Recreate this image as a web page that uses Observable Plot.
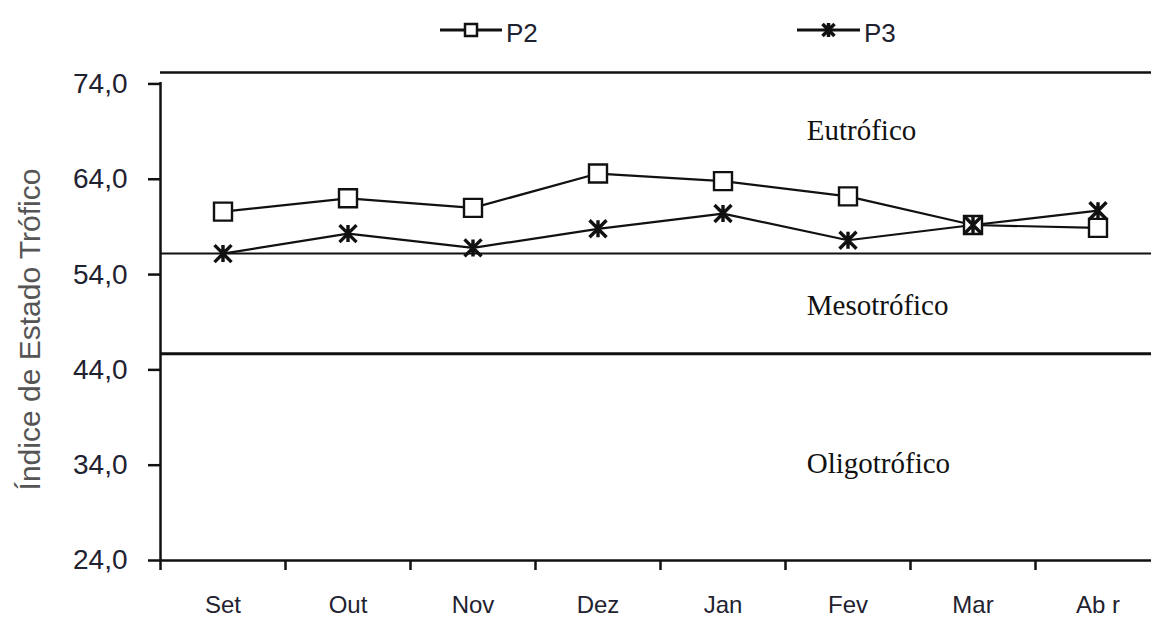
<!DOCTYPE html>
<html>
<head>
<meta charset="utf-8">
<script src="https://cdn.jsdelivr.net/npm/d3@7"></script>
<script src="https://cdn.jsdelivr.net/npm/@observablehq/plot@0.6"></script>
<style>
  body { margin: 0; background: #fff; font-family: "Liberation Sans", Arial, sans-serif; }
  #legend { position: relative; width: 1151px; height: 60px; }
  #legend svg { position: absolute; left: 0; top: 0; }
  #chart svg { display: block; overflow: hidden; }
</style>
</head>
<body>
<div id="legend"></div>
<div id="chart"></div>
<script>
// ---- data ----
const months = ["Set", "Out", "Nov", "Dez", "Jan", "Fev", "Mar", "Ab r"];
const p2 = [60.6, 62.0, 61.0, 64.6, 63.8, 62.2, 59.2, 58.9];
const p3 = [56.2, 58.3, 56.8, 58.8, 60.4, 57.6, 59.2, 60.7];
const yTicks = [24, 34, 44, 54, 64, 74];
const yDomain = [24, 75.2];
const thresholds = [56.2, 45.7];
const zoneLabels = ["Eutrófico", "Mesotrófico", "Oligotrófico"];
const zoneY = [69.1, 50.7, 34.2];
const zoneX = 5.17;
const seriesNames = ["P2", "P3"];
const yTitle = "Índice de Estado Trófico";

// ---- symbols ----
const squareSym = {draw(ctx, size) { const r = Math.sqrt(size / Math.PI); ctx.rect(-r, -r, 2 * r, 2 * r); }};
const starSym = {draw(ctx, size) {
  const r = Math.sqrt(size / Math.PI);
  ctx.moveTo(-r, -r); ctx.lineTo(r, r);
  ctx.moveTo(r, -r); ctx.lineTo(-r, r);
  ctx.moveTo(0, -r); ctx.lineTo(0, r);
}};

const rowsP2 = months.map((m, i) => ({x: i + 0.5, y: p2[i]}));
const rowsP3 = months.map((m, i) => ({x: i + 0.5, y: p3[i]}));
const zones = zoneLabels.map((t, i) => ({x: zoneX, y: zoneY[i], t}));
const bandEdges = d3.range(0, months.length + 1);
const bandCenters = months.map((m, i) => i + 0.5);

const ink = "#111";
const chart = Plot.plot({
  width: 1151,
  height: 557,
  marginLeft: 160,
  marginRight: -9,
  marginTop: 12,
  marginBottom: 57,
  style: {fontFamily: "Liberation Sans, Arial, sans-serif", background: "#fff", color: "#1f2230"},
  x: {type: "linear", domain: [0, months.length]},
  y: {domain: yDomain},
  marks: [
    // frame lines
    Plot.ruleY([yDomain[1]], {stroke: ink, strokeWidth: 2.5}),
    Plot.ruleY([yDomain[0]], {stroke: ink, strokeWidth: 2.5}),
    Plot.ruleX([0], {y1: yDomain[0], y2: yDomain[1], stroke: ink, strokeWidth: 2.5, insetBottom: -10}),
    // trophic thresholds
    Plot.ruleY(thresholds, {stroke: ink, strokeWidth: (d, i) => i === 0 ? 2 : 3}),
    // axes
    Plot.axisY({ticks: yTicks, tickSize: 12, tickPadding: 21, fontSize: 28, tickFormat: d => d.toFixed(1).replace(".", ","), label: null, stroke: ink, strokeWidth: 2.5}),
    Plot.axisX({ticks: bandEdges, tickSize: 10, tickFormat: () => "", label: null, stroke: ink, strokeWidth: 2.5}),
    Plot.axisX({ticks: bandCenters, tickSize: 0, tickPadding: 35, fontSize: 24, tickFormat: d => months[Math.round(d - 0.5)], label: null}),
    Plot.text([yTitle], {frameAnchor: "left", textAnchor: "middle", rotate: -90, dx: -130, dy: 13, fontSize: 30, fill: "#555"}),
    // zone labels
    Plot.text(zones, {x: "x", y: "y", text: "t", textAnchor: "start", fontFamily: "Liberation Serif, Times New Roman, serif", fontSize: 29, fill: "#111"}),
    // series
    Plot.line(rowsP2, {x: "x", y: "y", stroke: ink, strokeWidth: 2.2}),
    Plot.line(rowsP3, {x: "x", y: "y", stroke: ink, strokeWidth: 2.2}),
    Plot.dot(rowsP2, {x: "x", y: "y", symbol: squareSym, r: 9, fill: "#fff", stroke: ink, strokeWidth: 2.4}),
    Plot.dot(rowsP3, {x: "x", y: "y", symbol: starSym, r: 8.5, fill: "none", stroke: ink, strokeWidth: 3.4})
  ]
});
document.getElementById("chart").appendChild(chart);

// ---- legend (HTML above the chart) ----
const lg = d3.select("#legend").append("svg").attr("width", 1151).attr("height", 60);
const items = [
  {name: seriesNames[0], x0: 440, x1: 502, sym: "square"},
  {name: seriesNames[1], x0: 797, x1: 860, sym: "star"}
];
items.forEach(it => {
  const cx = (it.x0 + it.x1) / 2;
  lg.append("line").attr("x1", it.x0).attr("x2", it.x1).attr("y1", 30).attr("y2", 30).attr("stroke", ink).attr("stroke-width", 3);
  if (it.sym === "square") {
    lg.append("rect").attr("x", cx - 6).attr("y", 24).attr("width", 12).attr("height", 12).attr("fill", "#fff").attr("stroke", ink).attr("stroke-width", 2.5);
  } else {
    lg.append("path").attr("d", `M${cx-6},24L${cx+6},36M${cx+6},24L${cx-6},36M${cx},23L${cx},37`).attr("stroke", ink).attr("stroke-width", 3.5);
  }
  lg.append("text").attr("x", it.x1 + 4).attr("y", 42).attr("font-size", 26).attr("font-family", "Liberation Sans, Arial, sans-serif").attr("fill", "#1f2230").text(it.name);
});
</script>
</body>
</html>
